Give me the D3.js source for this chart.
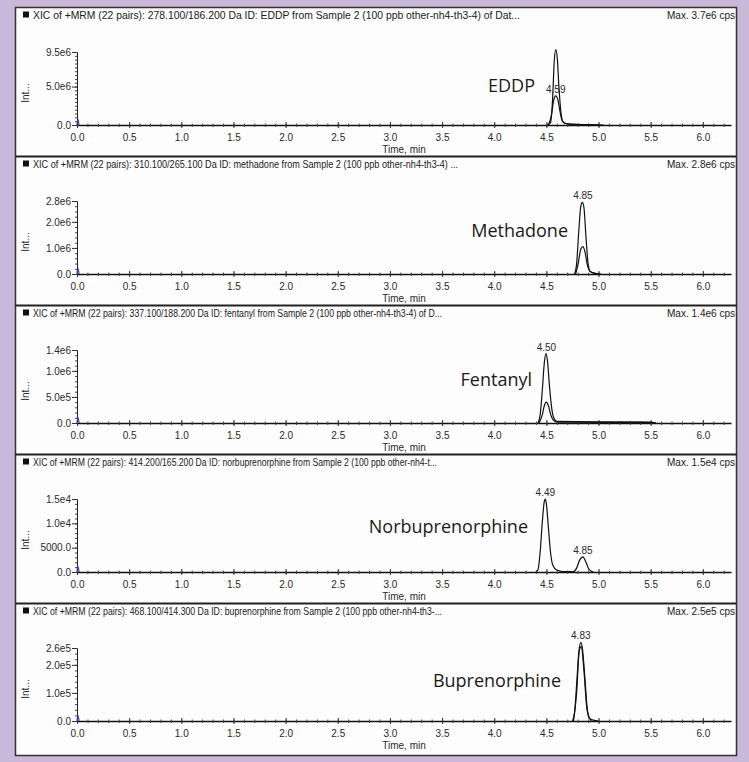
<!DOCTYPE html>
<html>
<head>
<meta charset="utf-8">
<script src="https://cdn.jsdelivr.net/npm/d3@7"></script>
<style>
  body { margin: 0; background: #c9b8d9; }
  svg { display: block; }
  .tick-label { font-family: "Liberation Sans Narrow", "Liberation Sans", Arial, sans-serif; font-size: 10px; fill: #2a2a2a; }
  .header { font-family: "Liberation Sans Narrow", "Liberation Sans", Arial, sans-serif; font-size: 10.5px; fill: #1a1a1a; }
  .compound { font-family: "Open Sans", "Noto Sans", sans-serif; font-size: 18px; fill: #1a1a1a; }
</style>
</head>
<body>
<script>
const compounds = ["EDDP", "Methadone", "Fentanyl", "Norbuprenorphine", "Buprenorphine"]
const headers = [
  "XIC of +MRM (22 pairs): 278.100/186.200 Da ID: EDDP from Sample 2 (100 ppb other-nh4-th3-4) of Dat...",
  "XIC of +MRM (22 pairs): 310.100/265.100 Da ID: methadone from Sample 2 (100 ppb other-nh4-th3-4) ...",
  "XIC of +MRM (22 pairs): 337.100/188.200 Da ID: fentanyl from Sample 2 (100 ppb other-nh4-th3-4) of D...",
  "XIC of +MRM (22 pairs): 414.200/165.200 Da ID: norbuprenorphine from Sample 2 (100 ppb other-nh4-t...",
  "XIC of +MRM (22 pairs): 468.100/414.300 Da ID: buprenorphine from Sample 2 (100 ppb other-nh4-th3-..."
]
const maxLabels = ["Max. 3.7e6 cps", "Max. 2.8e6 cps", "Max. 1.4e6 cps", "Max. 1.5e4 cps", "Max. 2.5e5 cps"]

const yTops = [9.5e6, 2.8e6, 1.4e6, 1.5e4, 2.6e5]
const yTickValues = [
  [0, 5e6, 9.5e6],
  [0, 1e6, 2e6, 2.8e6],
  [0, 5e5, 1e6, 1.4e6],
  [0, 5000, 1e4, 1.5e4],
  [0, 1e5, 2e5, 2.6e5]
]
const yTickLabels = [
  ["0.0", "5.0e6", "9.5e6"],
  ["0.0", "1.0e6", "2.0e6", "2.8e6"],
  ["0.0", "5.0e5", "1.0e6", "1.4e6"],
  ["0.0", "5000.0", "1.0e4", "1.5e4"],
  ["0.0", "1.0e5", "2.0e5", "2.6e5"]
]
const yMinorStep = [5e5, 2e5, 1e5, 1000, 2e4]

const xTicks = [0, 0.5, 1.0, 1.5, 2.0, 2.5, 3.0, 3.5, 4.0, 4.5, 5.0, 5.5, 6.0]
const xMax = 6.27

// traces, [time min, intensity]
const eddpA = [[4.51, 0], [4.54, 3e5], [4.56, 3.5e6], [4.575, 8.2e6], [4.59, 9.8e6], [4.605, 8.6e6], [4.62, 5e6], [4.64, 1.6e6], [4.66, 4e5], [4.70, 1.5e5], [4.80, 7e4], [5.0, 2e4], [5.05, 0]]
const eddpB = [[4.52, 0], [4.55, 1.4e6], [4.57, 3.2e6], [4.59, 3.8e6], [4.61, 3.3e6], [4.63, 1.8e6], [4.65, 6e5], [4.68, 2e5], [4.75, 8e4], [4.90, 2e4], [5.0, 0]]
const methA = [[4.77, 0], [4.79, 4e5], [4.81, 1.6e6], [4.83, 2.6e6], [4.845, 2.75e6], [4.86, 2.55e6], [4.88, 1.4e6], [4.90, 4e5], [4.92, 1e5], [4.96, 3e4], [5.02, 0]]
const methB = [[4.78, 0], [4.80, 3e5], [4.83, 9.5e5], [4.85, 1.05e6], [4.87, 8.5e5], [4.89, 4e5], [4.92, 1e5], [4.98, 2e4], [5.02, 0]]
const fentA = [[4.42, 0], [4.44, 1.5e5], [4.46, 6e5], [4.48, 1.15e6], [4.495, 1.33e6], [4.51, 1.2e6], [4.53, 7e5], [4.55, 3e5], [4.57, 1e5], [4.60, 3e4], [5.5, 1.5e4], [5.55, 0]]
const fentB = [[4.43, 0], [4.46, 1.5e5], [4.48, 3.3e5], [4.50, 4e5], [4.52, 3.3e5], [4.54, 1.7e5], [4.57, 5e4], [4.62, 1.5e4], [5.5, 1e4], [5.55, 0]]
const norbA = [[4.40, 0], [4.42, 500], [4.44, 4000], [4.46, 1.0e4], [4.48, 1.45e4], [4.49, 1.5e4], [4.50, 1.4e4], [4.52, 9000], [4.54, 4000], [4.56, 1500], [4.60, 400], [4.66, 100], [4.76, 100], [4.79, 800], [4.82, 2500], [4.85, 3100], [4.88, 2000], [4.91, 500], [4.95, 0]]
const bupA = [[4.75, 0], [4.77, 3e4], [4.79, 1.3e5], [4.81, 2.4e5], [4.83, 2.8e5], [4.845, 2.6e5], [4.87, 1.5e5], [4.89, 5e4], [4.91, 1e4], [4.95, 3e3], [5.0, 0]]
const bupB = [[4.76, 0], [4.79, 1.0e5], [4.815, 2.5e5], [4.835, 2.65e5], [4.86, 1.8e5], [4.89, 4e4], [4.93, 0]]
const traces = [[eddpA, eddpB], [methA, methB], [fentA, fentB], [norbA], [bupA, bupB]]

const peakLabels = [
  [[4.59, 3.8e6, "4.59"]],
  [[4.85, 2.75e6, "4.85"]],
  [[4.50, 1.33e6, "4.50"]],
  [[4.49, 1.5e4, "4.49"], [4.85, 3100, "4.85"]],
  [[4.83, 2.8e5, "4.83"]]
]
// small spike at the origin, as fraction of the axis top
const originSpike = [[0, 0], [0.008, 0.08], [0.02, 0]]

// layout
const width = 749, height = 762
const top0 = 7.5, step = 149
const axisX = 77, plotRight = 731
const relZero = 117.5, relTop = 44.5
const nameLayout = [[535, 77.5], [568, 73.5], [532, 73.5], [528, 71.5], [561, 76.5]]
const headerEnds = [520, 458, 442, 437, 442]

const svg = d3.select("body").append("svg").attr("width", width).attr("height", height)

svg.append("rect").attr("x", 15.5).attr("y", 7.5).attr("width", 721).attr("height", 748)
  .attr("fill", "#fdfdfd").attr("stroke", "#333").attr("stroke-width", 1.5)

const x = d3.scaleLinear().domain([0, xMax]).range([axisX, plotRight])

compounds.forEach((name, i) => {
  const T = top0 + i * step
  const g = svg.append("g").attr("transform", `translate(0,${T})`)
  const y = d3.scaleLinear().domain([0, yTops[i]]).range([relZero, relTop])

  if (i > 0) g.append("line").attr("x1", 15.5).attr("x2", 736.5).attr("y1", 0).attr("y2", 0)
    .attr("stroke", "#222").attr("stroke-width", 2)

  // header
  g.append("rect").attr("x", 23).attr("y", 4).attr("width", 6).attr("height", 6).attr("fill", "#111")
  g.append("text").attr("class", "header").attr("x", 33).attr("y", 11)
    .attr("textLength", headerEnds[i] - 33).attr("lengthAdjust", "spacingAndGlyphs").text(headers[i])
  g.append("text").attr("class", "header").attr("x", 735).attr("y", 11).attr("text-anchor", "end")
    .attr("textLength", 68).attr("lengthAdjust", "spacingAndGlyphs").text(maxLabels[i])

  // y axis
  const minor = d3.range(0, yTops[i] + 1e-9, yMinorStep[i])
  g.append("g").attr("transform", `translate(${axisX},0)`)
    .call(d3.axisLeft(y).tickValues(minor).tickSize(2).tickFormat(""))
    .call(a => a.select(".domain").attr("stroke", "#222"))
    .call(a => a.selectAll(".tick line").attr("stroke", "#444"))
  g.append("g").attr("transform", `translate(${axisX},0)`)
    .call(d3.axisLeft(y).tickValues(yTickValues[i]).tickSize(5).tickPadding(1)
      .tickFormat((d, k) => yTickLabels[i][k]))
    .call(a => a.select(".domain").remove())
    .call(a => a.selectAll(".tick line").attr("stroke", "#333"))
    .call(a => a.selectAll(".tick text").attr("class", "tick-label").attr("font-size", null).attr("font-family", null).attr("fill", null))
  g.append("text").attr("class", "tick-label")
    .attr("transform", `translate(29,${relZero - 32}) rotate(-90)`).attr("text-anchor", "middle").text("Int...")

  // x axis
  const xMinor = d3.range(0, xMax, 0.1)
  g.append("g").attr("transform", `translate(0,${relZero})`)
    .call(d3.axisBottom(x).tickValues(xMinor).tickSizeInner(2).tickSizeOuter(0).tickFormat(""))
    .call(a => a.select(".domain").attr("stroke", "#111").attr("stroke-width", 1.3))
    .call(a => a.selectAll(".tick line").attr("stroke", "#444").attr("y1", -1.5))
  g.append("g").attr("transform", `translate(0,${relZero})`)
    .call(d3.axisBottom(x).tickValues(xTicks).tickSize(3).tickPadding(6).tickFormat(d3.format(".1f")))
    .call(a => a.select(".domain").remove())
    .call(a => a.selectAll(".tick line").attr("stroke", "#333").attr("y1", -3))
    .call(a => a.selectAll(".tick text").attr("class", "tick-label").attr("font-size", null).attr("font-family", null).attr("fill", null))
  g.append("text").attr("class", "tick-label").attr("x", (axisX + plotRight) / 2).attr("y", relZero + 28)
    .attr("text-anchor", "middle").text("Time, min")

  // traces
  const line = d3.line().x(d => x(d[0])).y(d => y(d[1])).curve(d3.curveMonotoneX)
  traces[i].forEach(tr => {
    g.append("path").attr("fill", "none").attr("stroke", "#111").attr("stroke-width", 1.2).attr("d", line(tr))
  })
  g.append("path").attr("fill", "none").attr("stroke", "#3a3f9e").attr("stroke-width", 1.2)
    .attr("d", line(originSpike.map(d => [d[0], d[1] * yTops[i]])))

  peakLabels[i].forEach(p => {
    g.append("text").attr("class", "tick-label").attr("x", x(p[0])).attr("y", y(p[1]) - 3)
      .attr("text-anchor", "middle").text(p[2])
  })

  g.append("text").attr("class", "compound").attr("x", nameLayout[i][0]).attr("y", nameLayout[i][1])
    .attr("text-anchor", "end").attr("dominant-baseline", "central").text(name)
})
</script>
</body>
</html>
